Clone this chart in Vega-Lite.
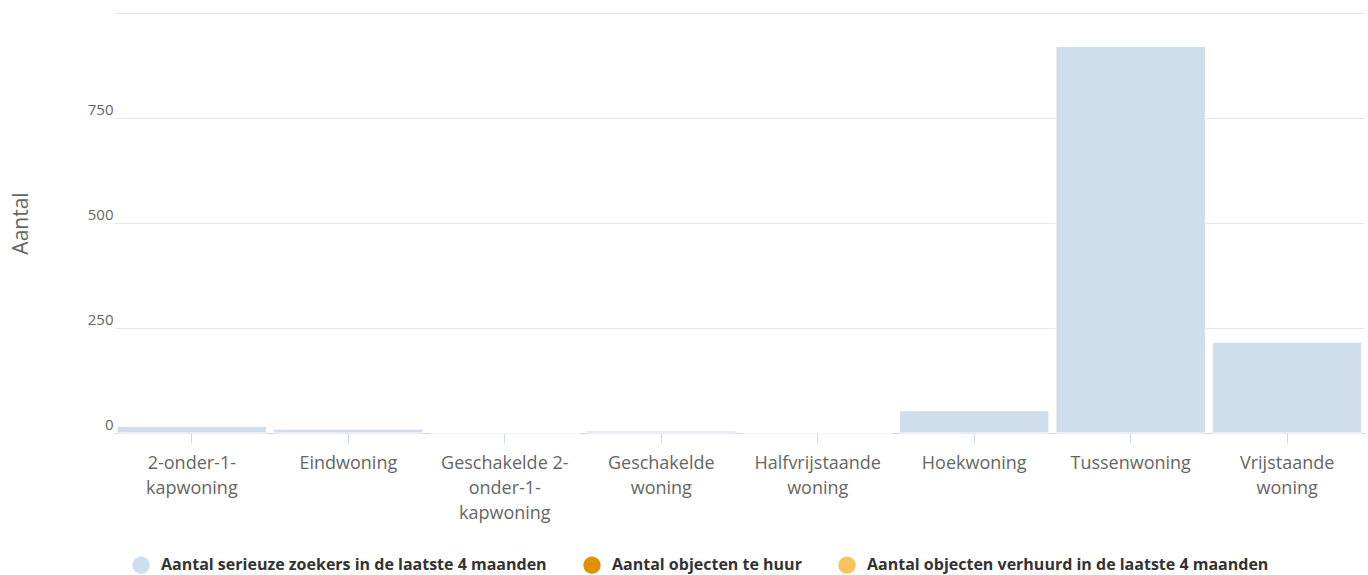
{
  "$schema": "https://vega.github.io/schema/vega-lite/v6.json",
  "width": 1251,
  "height": 420,
  "autosize": {"type": "none"},
  "padding": {"left": 114, "top": 13, "right": 3, "bottom": 142},
  "config": {"view": {"stroke": null}, "font": "Open Sans"},
  "data": {
    "values": [
      {"type": "2-onder-1-kapwoning", "serie": "Aantal serieuze zoekers in de laatste 4 maanden", "aantal": 16},
      {"type": "Eindwoning", "serie": "Aantal serieuze zoekers in de laatste 4 maanden", "aantal": 9},
      {"type": "Geschakelde 2-onder-1-kapwoning", "serie": "Aantal serieuze zoekers in de laatste 4 maanden", "aantal": 0},
      {"type": "Geschakelde woning", "serie": "Aantal serieuze zoekers in de laatste 4 maanden", "aantal": 5},
      {"type": "Halfvrijstaande woning", "serie": "Aantal serieuze zoekers in de laatste 4 maanden", "aantal": 0},
      {"type": "Hoekwoning", "serie": "Aantal serieuze zoekers in de laatste 4 maanden", "aantal": 53},
      {"type": "Tussenwoning", "serie": "Aantal serieuze zoekers in de laatste 4 maanden", "aantal": 921},
      {"type": "Vrijstaande woning", "serie": "Aantal serieuze zoekers in de laatste 4 maanden", "aantal": 216},
      {"type": "Tussenwoning", "serie": "Aantal objecten te huur", "aantal": 0},
      {"type": "Tussenwoning", "serie": "Aantal objecten verhuurd in de laatste 4 maanden", "aantal": 0}
    ]
  },
  "mark": {"type": "bar", "stroke": "white", "strokeWidth": 1},
  "encoding": {
    "x": {
      "field": "type",
      "type": "nominal",
      "sort": null,
      "scale": {"paddingInner": 0.045, "paddingOuter": 0.02},
      "axis": {
        "title": null,
        "labelAngle": 0,
        "labelFontSize": 18,
        "labelColor": "#666666",
        "labelLineHeight": 25,
        "labelBaseline": "top",
        "labelPadding": 11,
        "tickSize": 10,
        "tickColor": "#ccd6eb",
        "domainColor": "#ccd6eb",
        "grid": false,
        "labelExpr": "datum.value == '2-onder-1-kapwoning' ? ['2-onder-1-', 'kapwoning'] : datum.value == 'Geschakelde 2-onder-1-kapwoning' ? ['Geschakelde 2-', 'onder-1-', 'kapwoning'] : datum.value == 'Geschakelde woning' ? ['Geschakelde', 'woning'] : datum.value == 'Halfvrijstaande woning' ? ['Halfvrijstaande', 'woning'] : datum.value == 'Vrijstaande woning' ? ['Vrijstaande', 'woning'] : datum.value"
      }
    },
    "y": {
      "field": "aantal",
      "type": "quantitative",
      "stack": "zero",
      "scale": {"domain": [0, 1000], "nice": false},
      "axis": {
        "title": "Aantal",
        "titleFontSize": 21,
        "titleFontWeight": "normal",
        "titleColor": "#666666",
        "titleX": -83,
        "values": [0, 250, 500, 750, 1000],
        "labelExpr": "datum.value == 1000 ? '' : datum.label",
        "labelFontSize": 15,
        "labelColor": "#666666",
        "labelBaseline": "bottom",
        "labelAlign": "right",
        "labelPadding": 1,
        "labelOffset": -1,
        "ticks": false,
        "domain": false,
        "gridColor": "#e6e6e6",
        "gridWidth": 1
      }
    },
    "color": {
      "field": "serie",
      "type": "nominal",
      "sort": ["Aantal serieuze zoekers in de laatste 4 maanden", "Aantal objecten te huur", "Aantal objecten verhuurd in de laatste 4 maanden"],
      "scale": {
        "domain": ["Aantal serieuze zoekers in de laatste 4 maanden", "Aantal objecten te huur", "Aantal objecten verhuurd in de laatste 4 maanden"],
        "range": ["#cfdeec", "#e09000", "#f8c35e"]
      },
      "legend": {
        "title": null,
        "orient": "none",
        "direction": "horizontal",
        "legendX": 18,
        "legendY": 543,
        "symbolType": "circle",
        "symbolSize": 300,
        "symbolStrokeWidth": 0,
        "labelFontSize": 16,
        "labelFontWeight": "bold",
        "labelColor": "#333333",
        "labelOffset": 11,
        "columnPadding": 36,
        "labelLimit": 500
      }
    }
  }
}
